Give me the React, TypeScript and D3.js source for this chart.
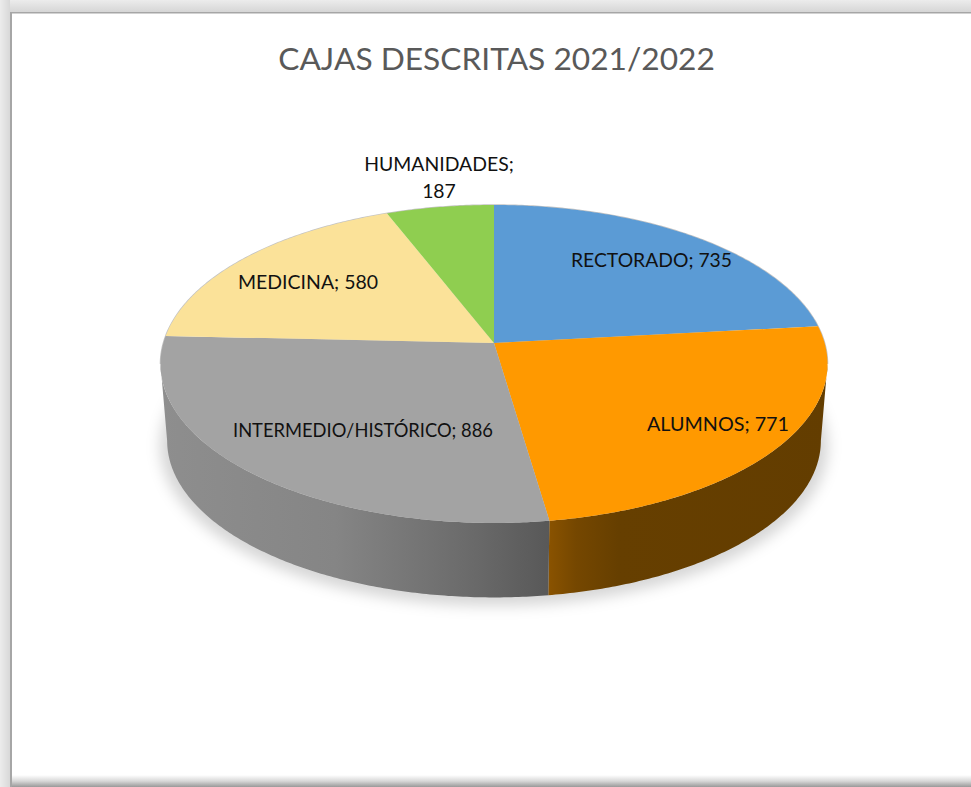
import React from "react";
import * as d3 from "d3";

const categories = ["RECTORADO", "ALUMNOS", "INTERMEDIO/HISTÓRICO", "MEDICINA", "HUMANIDADES"];
const values = [735, 771, 886, 580, 187];
const topColors = ["#5B9BD5", "#FF9900", "#A3A3A3", "#FBE299", "#8FCE50"];
const titleText = "CAJAS DESCRITAS 2021/2022";

const W = 971, H = 787;
const FONT = "Lato, 'Open Sans', sans-serif";
// perspective view of the pie's circular faces
const CX = 494, K = 0.132;
const topFace = { cy: 343, a: 330.6, b: 156.2 };
const bottomFace = { cy: 420, a: 324, b: 154 };
const silhouette = Math.acos(-K);

type Face = { cy: number; a: number; b: number };
const project = (f: Face, t: number): [number, number] => {
  const d = 1 + K * Math.cos(t);
  return [CX + (f.a * Math.sin(t)) / d, f.cy - (f.b * Math.cos(t)) / d];
};
const samples = (t0: number, t1: number) => {
  const n = Math.max(2, Math.ceil(Math.abs(t1 - t0) / 0.01));
  const s = d3.scaleLinear().domain([0, n]).range([t0, t1]);
  return d3.range(n + 1).map((i) => s(i));
};
const line = d3.line<[number, number]>();
const arcs = d3.pie<number>().sort(null)(values);
const slicePath = (t0: number, t1: number) =>
  line([[CX, topFace.cy], ...samples(t0, t1).map((t) => project(topFace, t))]) + "Z";
const sidePath = (t0: number, t1: number) =>
  line([
    ...samples(t0, t1).map((t) => project(topFace, t)),
    ...samples(t1, t0).map((t) => project(bottomFace, t)),
  ]) + "Z";

const labelSpots: { x: number; y: number; fit?: number }[] = [
  { x: 651.5, y: 267, fit: 161 },
  { x: 718, y: 431, fit: 142 },
  { x: 363, y: 437, fit: 260 },
  { x: 308, y: 289, fit: 140 },
  { x: 439, y: 171 },
];
const labelSize = 19.4;

function sideRange(i: number): [number, number] | null {
  const a = arcs[i];
  const s = Math.max(a.startAngle, silhouette);
  const e = Math.min(a.endAngle, 2 * Math.PI - silhouette);
  return s < e ? [s, e] : null;
}

export default function App() {
  const full = samples(0, 2 * Math.PI);
  const rim = samples(-silhouette, silhouette);
  return (
    <svg
      width={W}
      height={H}
      viewBox={`0 0 ${W} ${H}`}
      style={{ position: "absolute", left: 0, top: 0, display: "block", background: "#fff" }}
    >
      <defs>
        <linearGradient id="grayside" gradientUnits="userSpaceOnUse" x1={160} x2={550} y1={0} y2={0}>
          <stop offset="0" stopColor="#8E8E8E" />
          <stop offset="0.45" stopColor="#858585" />
          <stop offset="0.8" stopColor="#6A6A6A" />
          <stop offset="1" stopColor="#585858" />
        </linearGradient>
        <linearGradient id="orangeside" gradientUnits="userSpaceOnUse" x1={548} x2={830} y1={0} y2={0}>
          <stop offset="0" stopColor="#8A5300" />
          <stop offset="0.1" stopColor="#754700" />
          <stop offset="0.25" stopColor="#663F00" />
          <stop offset="1" stopColor="#633D00" />
        </linearGradient>
        <linearGradient id="frameBottom" x1="0" x2="0" y1="0" y2="1">
          <stop offset="0" stopColor="#ffffff" />
          <stop offset="0.5" stopColor="#d8d8d8" />
          <stop offset="1" stopColor="#999999" />
        </linearGradient>
        <linearGradient id="frameTop" x1="0" x2="0" y1="0" y2="1">
          <stop offset="0" stopColor="#ececec" />
          <stop offset="1" stopColor="#d6d6d6" />
        </linearGradient>
        <linearGradient id="frameLeft" x1="0" x2="1" y1="0" y2="0">
          <stop offset="0" stopColor="#ececec" />
          <stop offset="1" stopColor="#d8d8d8" />
        </linearGradient>
        <filter id="soft" x="-10%" y="-10%" width="120%" height="120%">
          <feGaussianBlur stdDeviation="7" />
        </filter>
      </defs>

      {/* frame */}
      <rect x={0} y={0} width={W} height={12} fill="url(#frameTop)" />
      <rect x={0} y={0} width={10} height={H} fill="url(#frameLeft)" />
      <rect x={10} y={12} width={2} height={H - 12} fill="#a6a6a6" />
      <rect x={10} y={12} width={W - 10} height={1.5} fill="#a6a6a6" />
      <rect x={12} y={775} width={W - 12} height={12} fill="url(#frameBottom)" />

      {/* drop shadow */}
      <path
        d={line(full.map((t) => project({ cy: bottomFace.cy + 5, a: bottomFace.a + 7, b: bottomFace.b + 3 }, t))) + "Z"}
        fill="#000"
        fillOpacity={0.16}
        filter="url(#soft)"
      />

      {/* sides */}
      {values.map((_, i) => {
        const r = sideRange(i);
        if (!r) return null;
        return <path key={categories[i]} d={sidePath(r[0], r[1])} fill={i === 1 ? "url(#orangeside)" : "url(#grayside)"} />;
      })}

      {/* top slices */}
      <path d={line(rim.map((t) => project(topFace, t))) ?? ""} fill="none" stroke="#c4c4c4" strokeWidth={1.5} />
      {arcs.map((a, i) => (
        <path key={categories[i]} d={slicePath(a.startAngle, a.endAngle)} fill={topColors[i]} />
      ))}

      {/* title */}
      <text x={496.5} y={69.5} textAnchor="middle" fontFamily={FONT} fontSize={31.7} fill="#595959">
        {titleText}
      </text>

      {/* labels */}
      {categories.map((c, i) =>
        c === "HUMANIDADES" ? (
          <text key={c} textAnchor="middle" fontFamily={FONT} fontSize={labelSize} fill="#111">
            <tspan x={labelSpots[i].x} y={labelSpots[i].y}>{`${c};`}</tspan>
            <tspan x={labelSpots[i].x} y={labelSpots[i].y + 27}>{values[i]}</tspan>
          </text>
        ) : (
          <text
            key={c}
            x={labelSpots[i].x}
            y={labelSpots[i].y}
            textAnchor="middle"
            fontFamily={FONT}
            fontSize={labelSize}
            fill="#111"
            textLength={labelSpots[i].fit}
            lengthAdjust="spacingAndGlyphs"
          >
            {`${c}; ${values[i]}`}
          </text>
        )
      )}
    </svg>
  );
}
